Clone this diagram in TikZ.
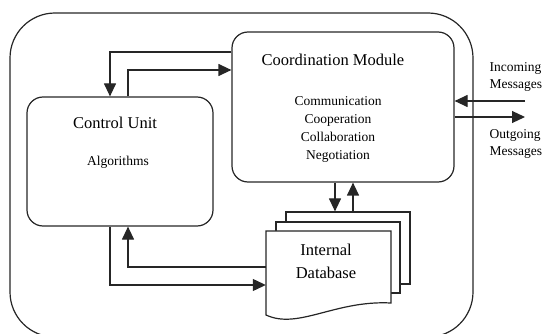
\documentclass[tikz,border=0pt]{standalone}
\usepackage{fontspec}
\setmainfont{Liberation Serif}
\usetikzlibrary{arrows.meta,calc}

\tikzset{
  line/.style={draw=black!85, line width=1.2pt},
  arr/.style={line, -{Triangle[length=13pt,width=12pt]}},
  module/.style={line, rounded corners=16pt, minimum width=#1, inner sep=0pt},
  page/.style={line, fill=white, inner sep=0pt},
  title/.style={font=\fontsize{16.5}{23}\selectfont, align=center},
  small/.style={font=\fontsize{13.5}{18.3}\selectfont, align=center},
  msg/.style={font=\fontsize{13.5}{17}\selectfont, align=left, anchor=west},
}

\begin{document}
\begin{tikzpicture}[x=1pt, y=-1pt]
  \useasboundingbox (0,0) rectangle (544,334);
  \clip (0,0) rectangle (544,334);

  % agent boundary
  \draw[line, rounded corners=45pt] (10,13) rectangle (473,337);

  % modules
  \node[module=222pt, minimum height=150pt] (cm) at (343,107) {};
  \node[module=186pt, minimum height=129pt] (cu) at (120,161.5) {};

  % internal database: stacked pages
  \node[page, minimum width=124pt, minimum height=72pt] (db3) at (348,248) {};
  \node[page, minimum width=124pt, minimum height=71pt] (db2) at (338,257.5) {};
  \draw[line, fill=white] (391,303) -- (391,231) -- (266,231) -- (266,315)
     .. controls (298,330) and (335,300) .. (391,303) -- cycle;
  \node[inner sep=0pt, minimum width=125pt, minimum height=84pt] (db) at (328.5,273) {};

  % texts
  \node[title] (cmt) at (333,60) {Coordination Module};
  \node[small] (cml) at (338,129.5) {Communication\\Cooperation\\Collaboration\\Negotiation};
  \node[title] (cut) at (115,123) {Control Unit};
  \node[small] (cua) at (118,162) {Algorithms};
  \node[title] (dbt) at (326,261.5) {Internal\\Database};
  \node[msg] (inl) at (486,77) {Incoming\\Messages};
  \node[msg] (outl) at (486,144) {Outgoing\\Messages};

  % control unit <-> coordination module
  \draw[arr] (cm.west |- 0,52) -| (110,0 |- cu.north);
  \draw[arr] (128,0 |- cu.north) |- (cm.west |- 0,70);

  % control unit <-> database
  \draw[arr] (db.west |- 0,267) -| (128,0 |- cu.south);
  \draw[arr] (110,0 |- cu.south) |- (db.west |- 0,285);

  % coordination module <-> database
  \draw[arr] (335,0 |- cm.south) -- (335,0 |- db3.north);
  \draw[arr] (353,0 |- db3.north) -- (353,0 |- cm.south);

  % message flow
  \coordinate (in) at (525,101);
  \coordinate (out) at (525,117);
  \draw[arr] (in) -- (cm.east |- in);
  \draw[arr] (cm.east |- out) -- (out);
\end{tikzpicture}
\end{document}
